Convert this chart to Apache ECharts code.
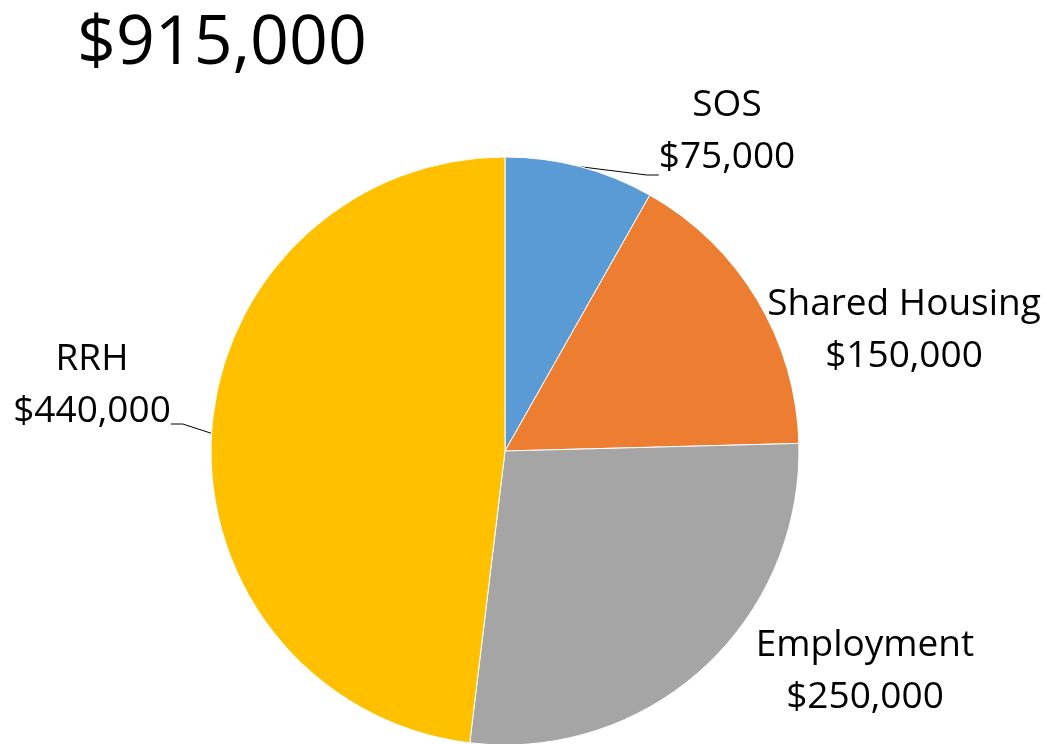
<!DOCTYPE html>
<html>
<head>
<meta charset="utf-8">
<script src="https://cdn.jsdelivr.net/npm/echarts@6/dist/echarts.min.js"></script>
<style>
html,body{margin:0;padding:0;background:#fff;}
#chart{width:1045px;height:744px;}
</style>
</head>
<body>
<div id="chart"></div>
<script>
const titleText = '$915,000';
const categories = ['SOS', 'Shared Housing', 'Employment', 'RRH'];
const values = [75000, 150000, 250000, 440000];
const colors = ['#5B9BD5', '#ED7D31', '#A5A5A5', '#FFC000'];
const showLeader = [true, false, false, true];

// label box centres; a blank spacer line below the text lets the leader meet the label's lower part
const labelPos = [
  {x: 727, y: 175},
  {x: 904, y: 330},
  {x: 865, y: 671},
  {x: 92, y: 424}
];
const spacerHeight = [88, 0, 0, 78];

const chart = echarts.init(document.getElementById('chart'));
const fmt = v => '$' + Number(v).toLocaleString('en-US');

const rich = {
  t: {fontFamily: 'Open Sans', fontSize: 37, lineHeight: 52, color: '#000'}
};
spacerHeight.forEach((h, i) => {
  rich['s' + i] = {fontSize: 1, lineHeight: h};
});

chart.setOption({
  animation: false,
  backgroundColor: '#fff',
  title: {
    text: titleText,
    left: 77,
    top: 11,
    padding: 0,
    textStyle: {fontFamily: 'Open Sans', fontSize: 68, fontWeight: 'normal', color: '#000'}
  },
  series: [{
    type: 'pie',
    center: [505, 451],
    radius: [0, 294],
    startAngle: 90,
    clockwise: true,
    avoidLabelOverlap: false,
    itemStyle: {borderColor: '#fff', borderWidth: 1},
    label: {
      show: true,
      position: 'outside',
      formatter: p => {
        let s = '{t|' + p.name + '}\n{t|' + fmt(p.value) + '}';
        if (spacerHeight[p.dataIndex] > 0) s += '\n{s' + p.dataIndex + '| }';
        return s;
      },
      rich: rich,
      fontFamily: 'Open Sans',
      fontSize: 37,
      lineHeight: 52,
      color: '#000',
      align: 'center'
    },
    labelLine: {show: true, length: 20, length2: 12, lineStyle: {color: '#000', width: 1}},
    labelLayout: function (params) {
      const p = labelPos[params.dataIndex];
      return {x: p.x, y: p.y, align: 'center', verticalAlign: 'middle'};
    },
    data: categories.map((c, i) => ({
      name: c,
      value: values[i],
      itemStyle: {color: colors[i]},
      labelLine: {show: showLeader[i]}
    }))
  }]
});
</script>
</body>
</html>
